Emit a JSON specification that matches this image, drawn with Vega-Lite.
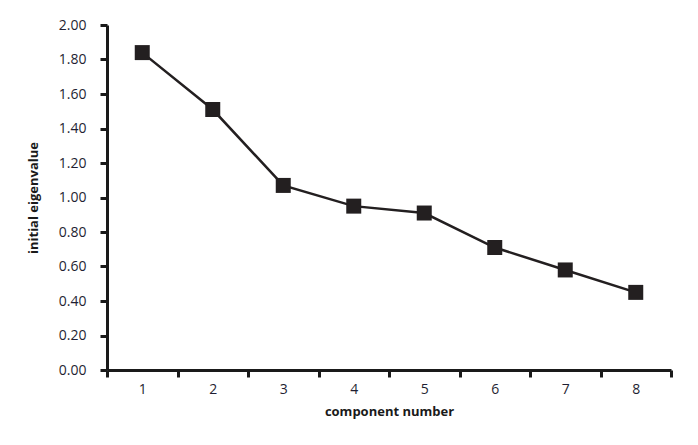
{
  "$schema": "https://vega.github.io/schema/vega-lite/v6.json",
  "width": 564,
  "height": 345,
  "autosize": {"type": "none"},
  "padding": {"left": 107, "top": 25, "right": 27, "bottom": 75},
  "background": "white",
  "config": {
    "view": {"stroke": null},
    "font": "Open Sans"
  },
  "data": {
    "values": [
      {"component": 1, "eigenvalue": 1.84},
      {"component": 2, "eigenvalue": 1.51},
      {"component": 3, "eigenvalue": 1.07},
      {"component": 4, "eigenvalue": 0.95},
      {"component": 5, "eigenvalue": 0.91},
      {"component": 6, "eigenvalue": 0.71},
      {"component": 7, "eigenvalue": 0.58},
      {"component": 8, "eigenvalue": 0.45}
    ]
  },
  "encoding": {
    "x": {
      "field": "component",
      "type": "ordinal",
      "scale": {"type": "band", "paddingInner": 0, "paddingOuter": 0},
      "axis": {
        "title": "component number",
        "labelAngle": 0,
        "tickBand": "extent",
        "domainColor": "#1a1a1a",
        "domainWidth": 3,
        "tickColor": "#1a1a1a",
        "tickWidth": 3,
        "tickSize": 7,
        "labelPadding": 5,
        "labelFontSize": 14,
        "labelColor": "#1f1f33",
        "titleFontSize": 13,
        "titleFontWeight": "bold",
        "titleColor": "#1a1a1a",
        "titlePadding": 9
      }
    },
    "y": {
      "field": "eigenvalue",
      "type": "quantitative",
      "scale": {"domain": [0, 2], "nice": false},
      "axis": {
        "title": "initial eigenvalue",
        "values": [0, 0.2, 0.4, 0.6, 0.8, 1.0, 1.2, 1.4, 1.6, 1.8, 2.0],
        "format": ".2f",
        "grid": false,
        "domainColor": "#1a1a1a",
        "domainWidth": 3,
        "tickColor": "#1a1a1a",
        "tickWidth": 3,
        "tickSize": 7,
        "labelPadding": 14,
        "labelFontSize": 14,
        "labelColor": "#1f1f33",
        "titleFontSize": 13,
        "titleFontWeight": "bold",
        "titleColor": "#1a1a1a",
        "titlePadding": 18
      }
    }
  },
  "layer": [
    {
      "mark": {"type": "line", "color": "#231f20", "strokeWidth": 2.5}
    },
    {
      "mark": {"type": "point", "shape": "square", "filled": true, "size": 225, "color": "#231f20", "opacity": 1}
    }
  ]
}
